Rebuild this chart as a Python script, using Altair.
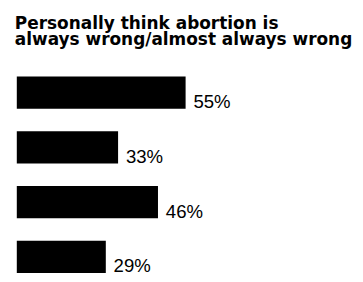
import altair as alt
import pandas as pd

categories = ["A", "B", "C", "D"]
values = [55, 33, 46, 29]
labels = ["55%", "33%", "46%", "29%"]

df = pd.DataFrame({"cat": categories, "val": values, "label": labels})

y = alt.Y("cat:N", sort=categories, axis=None,
          scale=alt.Scale(paddingInner=0.41, paddingOuter=0))
x = alt.X("val:Q", axis=None, scale=alt.Scale(domain=[0, 100], nice=False))

bars = alt.Chart(df).mark_bar(color="black").encode(x=x, y=y)
text = alt.Chart(df).mark_text(
    align="left", baseline="alphabetic", dx=8, dy=16,
    font="Liberation Sans", fontSize=19, color="black"
).encode(x=x, y=y, text="label:N")

chart = (bars + text).properties(
    width=314, height=201,
    title=alt.TitleParams(
        ["Personally think abortion is", "always wrong/almost always wrong"],
        anchor="start", font="DejaVu Sans", fontSize=17.3, fontWeight="bold",
        color="black", offset=28.5, dx=-2, lineHeight=16.5,
    ),
    autosize=alt.AutoSizeParams(type="none"),
    padding={"left": 9, "top": 67, "right": 32, "bottom": 0},
).configure_view(stroke=None)

chart.save("out.html", embed_options={"renderer": "svg", "actions": False})
